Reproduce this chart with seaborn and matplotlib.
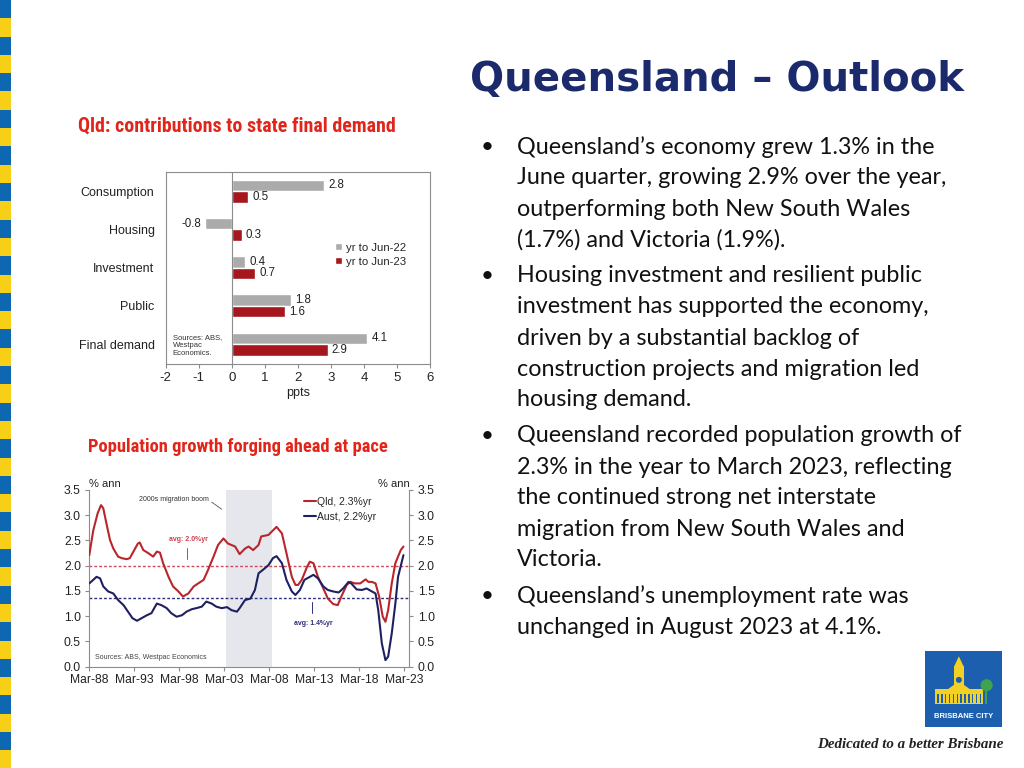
import numpy as np
import pandas as pd
import matplotlib
matplotlib.use('Agg')
from matplotlib import pyplot as plt
from matplotlib.patches import Rectangle, Polygon
import seaborn as sb

# Bar chart data (contributions to state final demand, ppts)
categorias = ['Consumption', 'Housing', 'Investment', 'Public', 'Final demand']
periodos = ['yr to Jun-22', 'yr to Jun-23']
jun22 = [2.8, -0.8, 0.4, 1.8, 4.1]
jun23 = [0.5, 0.3, 0.7, 1.6, 2.9]

# Population growth (% ann), x = years since Mar-88
qld_t = [0, 0.44, 0.93, 1.3, 1.55, 1.9, 2.3, 2.67, 3.2, 3.6, 4.15, 4.5, 4.9, 5.4, 5.6, 6.0, 6.55, 7.1,
         7.5, 7.85, 8.2, 8.8, 9.3, 9.9, 10.4, 11.0, 11.6, 12.1, 12.7, 13.2, 13.8, 14.3, 14.9, 15.4,
         16.2, 16.7, 17.3, 17.7, 18.2, 18.8, 19.1, 19.9, 20.8, 21.4, 21.9, 22.5, 22.9, 23.2, 23.6,
         24.2, 24.5, 24.9, 25.4, 26.0, 26.5, 27.1, 27.6, 28.0, 28.6, 29.0, 29.5, 30.1, 30.7, 31.0,
         31.4, 31.8, 32.2, 32.6, 32.9, 33.2, 33.6, 34.0, 34.6, 34.9]
qld_v = [2.21, 2.7, 3.04, 3.2, 3.14, 2.84, 2.51, 2.34, 2.18, 2.15, 2.13, 2.15, 2.28, 2.44, 2.46, 2.31,
         2.25, 2.18, 2.28, 2.26, 2.05, 1.78, 1.59, 1.49, 1.39, 1.45, 1.59, 1.65, 1.72, 1.92, 2.18,
         2.41, 2.54, 2.44, 2.38, 2.23, 2.34, 2.38, 2.31, 2.41, 2.58, 2.61, 2.77, 2.64, 2.25, 1.78,
         1.62, 1.62, 1.72, 1.98, 2.08, 2.05, 1.78, 1.55, 1.35, 1.24, 1.22, 1.39, 1.62, 1.68, 1.65,
         1.65, 1.73, 1.68, 1.68, 1.65, 1.39, 0.99, 0.89, 1.12, 1.65, 2.05, 2.31, 2.38]
aus_t = [0, 0.44, 0.8, 1.2, 1.55, 2.1, 2.67, 3.2, 3.8, 4.3, 4.8, 5.3, 5.8, 6.4, 6.9, 7.5, 8.0, 8.6,
         9.1, 9.7, 10.3, 10.8, 11.4, 11.9, 12.5, 13.0, 13.6, 14.1, 14.7, 15.3, 15.8, 16.4, 16.7,
         17.3, 17.9, 18.4, 18.8, 19.3, 19.9, 20.4, 20.8, 21.4, 21.9, 22.5, 22.9, 23.4, 23.9, 24.5,
         24.9, 25.4, 26.0, 26.5, 27.1, 27.7, 28.2, 28.8, 29.1, 29.7, 30.3, 30.8, 31.4, 31.8, 32.1,
         32.5, 32.9, 33.2, 33.6, 34.0, 34.3, 34.9]
aus_v = [1.65, 1.72, 1.78, 1.75, 1.59, 1.49, 1.45, 1.32, 1.22, 1.09, 0.96, 0.91, 0.96, 1.02, 1.06,
         1.25, 1.22, 1.16, 1.06, 0.99, 1.02, 1.09, 1.14, 1.16, 1.19, 1.29, 1.25, 1.19, 1.16, 1.18,
         1.12, 1.09, 1.16, 1.32, 1.35, 1.52, 1.85, 1.92, 2.01, 2.15, 2.19, 2.05, 1.72, 1.49, 1.42,
         1.52, 1.72, 1.78, 1.82, 1.75, 1.59, 1.52, 1.49, 1.47, 1.55, 1.68, 1.65, 1.53, 1.52, 1.55,
         1.49, 1.45, 1.12, 0.46, 0.13, 0.2, 0.66, 1.25, 1.78, 2.21]
series = ['Qld, 2.3%yr', 'Aust, 2.2%yr']
medias = [2.0, 1.37]  # long-run averages
anos_rotulos = ['Mar-88', 'Mar-93', 'Mar-98', 'Mar-03', 'Mar-08', 'Mar-13', 'Mar-18', 'Mar-23']
boom = [15.2, 20.3]  # 2000s migration boom (years since Mar-88)

# Slide text
titulo = 'Queensland – Outlook'
bullets = [
    ['Queensland’s economy grew 1.3% in the', 'June quarter, growing 2.9% over the year,',
     'outperforming both New South Wales', '(1.7%) and Victoria (1.9%).'],
    ['Housing investment and resilient public', 'investment has supported the economy,',
     'driven by a substantial backlog of', 'construction projects and migration led', 'housing demand.'],
    ['Queensland recorded population growth of', '2.3% in the year to March 2023, reflecting',
     'the continued strong net interstate', 'migration from New South Wales and', 'Victoria.'],
    ['Queensland’s unemployment rate was', 'unchanged in August 2023 at 4.1%.'],
]

sb.set_theme(style='white')
plt.rcParams['font.family'] = ['Liberation Sans', 'DejaVu Sans']
plt.rcParams['axes.unicode_minus'] = False

W, H = 1024, 768
fig = plt.figure(figsize=(W / 100, H / 100), dpi=100)
fig.patch.set_facecolor('white')

def fx(x):
    return x / W

def fy(y):
    return 1 - y / H

# Striped left border
h = 18.3
for i in range(int(H / h) + 1):
    cor = '#0E68B1' if i % 2 == 0 else '#F6CF16'
    fig.add_artist(Rectangle((0, fy((i + 1) * h)), fx(11), h / H, color=cor,
                             transform=fig.transFigure, lw=0))

# Title
fig.text(fx(470), fy(80), titulo, fontsize=29, fontweight='bold', color='#1A2A6C',
         va='center', family=['DejaVu Sans'])

# Bullets
y = 147
for par in bullets:
    fig.text(fx(481), fy(y), '•', fontsize=16, color='#111', va='center', family=['Lato', 'DejaVu Sans'])
    for linha in par:
        fig.text(fx(517), fy(y), linha, fontsize=16.8, color='#111', va='center', family=['Lato', 'DejaVu Sans'])
        y += 31
    y += 5

# ---- Bar chart ----
vermelho_tit = '#E1251B'
fonte_tit = ['Roboto Condensed', 'DejaVu Sans']
fig.text(fx(78), fy(126), 'Qld: contributions to state final demand', fontsize=14.3, fontweight='bold',
         fontstretch='condensed', color=vermelho_tit, va='center', family=fonte_tit)

df_bar = pd.DataFrame({'categoria': categorias * 2,
                       'valor': jun22 + jun23,
                       'periodo': [periodos[0]] * 5 + [periodos[1]] * 5})
ax1 = fig.add_axes([fx(165.7), fy(364), fx(430) - fx(165.7), (364 - 171.7) / H])
sb.barplot(data=df_bar, y='categoria', x='valor', hue='periodo', orient='h', width=0.6,
           palette=['#ABABAB', '#A5161D'], saturation=1, ax=ax1)
for c in ax1.containers:
    ax1.bar_label(c, fmt='%.1f', padding=3, fontsize=8.3, color='#222')
ax1.axvline(0, color='#8C8C8C', lw=0.8)
ax1.set_xlim(-2, 6)
ax1.set_ylim(4.52, -0.505)
ax1.set_xticks(range(-2, 7))
ax1.tick_params(axis='x', direction='out', length=3, width=0.8, color='#8C8C8C', labelsize=9.5,
                labelcolor='#222', pad=3, bottom=True)
ax1.tick_params(axis='y', length=0, labelsize=9, labelcolor='#222', pad=8)
ax1.set_xlabel('ppts', fontsize=9, color='#222', labelpad=2)
ax1.set_ylabel('')
for s in ax1.spines.values():
    s.set_color('#8C8C8C')
    s.set_linewidth(0.8)
ax1.legend(loc='upper left', bbox_to_anchor=(0.64, 0.63), frameon=False, fontsize=8.2,
           handlelength=0.6, handleheight=0.6, handletextpad=0.35, labelspacing=0.35,
           borderaxespad=0, borderpad=0)
ax1.text(-1.79, 3.74, 'Sources: ABS,\nWestpac\nEconomics.', fontsize=5.5, color='#333',
         va='top', ha='left', linespacing=1.2)

# ---- Line chart ----
fig.text(fx(88), fy(447), 'Population growth forging ahead at pace', fontsize=13.3, fontweight='bold',
         fontstretch='condensed', color=vermelho_tit, va='center', family=fonte_tit)

ax2 = fig.add_axes([fx(89.3), fy(666.7), fx(409.3) - fx(89.3), (666.7 - 490) / H])
cor_qld = '#B8262C'
cor_aus = '#1E2160'
ax2.axvspan(boom[0], boom[1], color='#E5E7EC', lw=0, zorder=0)
ax2.axhline(medias[0], color='#D04858', lw=1, ls=(0, (2, 1.5)), zorder=1)
ax2.axhline(medias[1], color='#2B2F7A', lw=1, ls=(0, (2, 1.5)), zorder=1)
sb.lineplot(x=qld_t, y=qld_v, color=cor_qld, lw=1.5, label=series[0], ax=ax2, zorder=3)
sb.lineplot(x=aus_t, y=aus_v, color=cor_aus, lw=1.5, label=series[1], ax=ax2, zorder=3)
ax2.set_xlim(0, 35.55)
ax2.set_ylim(0, 3.5)
ax2.set_xticks(np.arange(0, 36, 5))
ax2.set_xticklabels(anos_rotulos)
ax2.set_yticks(np.arange(0, 3.51, 0.5))
ax2.set_yticklabels([f'{v:.1f}' for v in np.arange(0, 3.51, 0.5)])
ax2.tick_params(axis='x', direction='out', length=3, width=0.8, color='#8C8C8C', labelsize=8.7,
                labelcolor='#222', pad=2, bottom=True)
ax2.tick_params(axis='y', direction='out', length=3, width=0.8, color='#8C8C8C', labelsize=8.8,
                labelcolor='#222', pad=3, left=True, right=True, labelright=True)
ax2.spines['top'].set_visible(False)
for s in ['left', 'right', 'bottom']:
    ax2.spines[s].set_color('#8C8C8C')
    ax2.spines[s].set_linewidth(0.8)
ax2.legend(loc='upper left', bbox_to_anchor=(0.67, 0.96), frameon=False, fontsize=7.5,
           handlelength=1.2, handletextpad=0.1, labelspacing=0.45, borderaxespad=0, borderpad=0)
ax2.text(0, 1.005, '% ann', transform=ax2.transAxes, fontsize=8, color='#222', ha='left', va='bottom')
ax2.text(1, 1.005, '% ann', transform=ax2.transAxes, fontsize=8, color='#222', ha='right', va='bottom')
ax2.text(9.36, 3.32, '2000s migration boom', fontsize=5, color='#333', ha='center', va='center')
ax2.plot([13.6, 14.7], [3.26, 3.12], color='#555', lw=0.6)
ax2.text(11.0, 2.51, 'avg: 2.0%yr', fontsize=5, fontweight='bold', color='#C8414E', ha='center', va='center')
ax2.plot([10.8, 10.8], [2.35, 2.13], color='#C8414E', lw=0.7)
ax2.text(24.86, 0.865, 'avg: 1.4%yr', fontsize=5, fontweight='bold', color='#2B2F7A', ha='center', va='center')
ax2.plot([24.7, 24.7], [1.28, 1.06], color='#2B2F7A', lw=0.7)
ax2.text(0.64, 0.18, 'Sources: ABS, Westpac Economics', fontsize=5, color='#444', ha='left', va='center')

# ---- Brisbane City logo ----
axl = fig.add_axes([fx(925), fy(727), 77 / W, 76 / H])
axl.set_xlim(0, 1)
axl.set_ylim(0, 1)
axl.axis('off')
axl.add_patch(Rectangle((0, 0), 1, 1, color='#1C5FAF', lw=0))
amarelo = '#F2D025'
axl.add_patch(Rectangle((0.13, 0.3), 0.62, 0.2, color=amarelo, lw=0))
axl.add_patch(Polygon([(0.3, 0.5), (0.44, 0.6), (0.58, 0.5)], color=amarelo, lw=0))
axl.add_patch(Rectangle((0.38, 0.5), 0.12, 0.3, color=amarelo, lw=0))
axl.add_patch(Polygon([(0.38, 0.8), (0.44, 0.93), (0.5, 0.8)], color=amarelo, lw=0))
axl.add_patch(plt.Circle((0.44, 0.62), 0.03, color='#1C5FAF'))
for xc in np.arange(0.16, 0.74, 0.05):
    axl.add_patch(Rectangle((xc, 0.32), 0.018, 0.12, color='#1C5FAF', lw=0))
axl.add_patch(Rectangle((0.78, 0.3), 0.03, 0.2, color='#3FA34D', lw=0))
axl.add_patch(plt.Circle((0.8, 0.55), 0.07, color='#3FA34D'))
axl.text(0.5, 0.14, 'BRISBANE CITY', color='white', fontsize=5.5, fontweight='bold', ha='center', va='center')

# Tagline
fig.text(fx(1003), fy(745), 'Dedicated to a better Brisbane', fontsize=10.8, fontweight='bold',
         style='italic', color='#222', ha='right', va='center', family=['Liberation Serif', 'DejaVu Serif'])

plt.savefig('out.png', dpi=100)
plt.close()
